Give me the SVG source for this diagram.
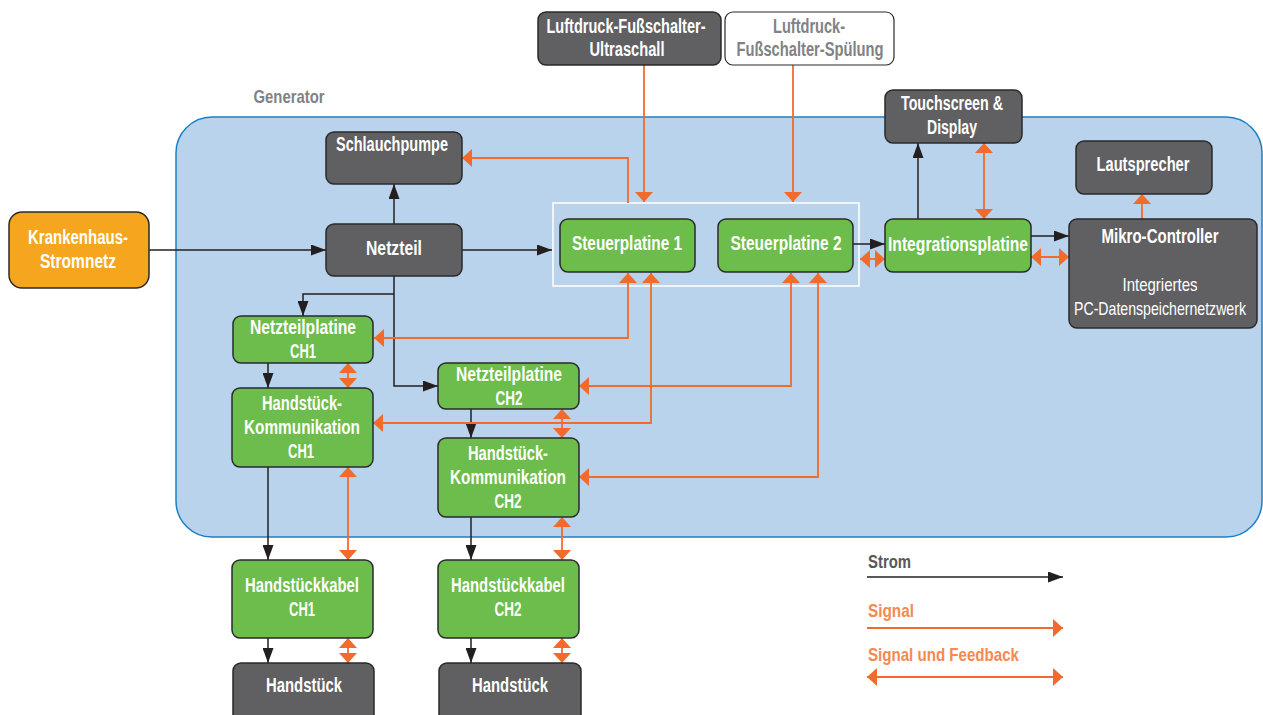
<svg xmlns="http://www.w3.org/2000/svg" width="1263" height="715" viewBox="0 0 1263 715">
<style>
text{font-family:"Liberation Sans",Arial,sans-serif;font-size:20px;font-weight:bold;text-anchor:middle;fill:#fff}
.dk{fill:#606063;stroke:#2a2a2a;stroke-width:1.5}
.gr{fill:#6cbd4b;stroke:#2a2a2a;stroke-width:1.5}
.bl{fill:none;stroke:#231f20;stroke-width:1.5}
.or{fill:none;stroke:#f26b2d;stroke-width:1.8}
.reg{font-weight:normal;font-size:19px}
</style>
<defs>
<marker id="ba" viewBox="0 0 15 11" refX="15" refY="5.5" markerWidth="15" markerHeight="11" markerUnits="userSpaceOnUse" orient="auto"><path d="M0,0 L15,5.5 L0,11 Z" fill="#231f20"/></marker>
<marker id="oa" viewBox="0 0 10 18" refX="10" refY="9" markerWidth="10" markerHeight="18" markerUnits="userSpaceOnUse" orient="auto-start-reverse"><path d="M0,0 L10,9 L0,18 Z" fill="#f26b2d"/></marker>
</defs>

<g id="generator">
<rect x="176" y="117" width="1086" height="420" rx="36" fill="#b8d3eb" stroke="#1c7fc5" stroke-width="1.5"/>
<text x="289" y="103" style="fill:#808285;font-size:19px" textLength="71" lengthAdjust="spacingAndGlyphs">Generator</text>
</g>
<rect id="steuer-gruppe" x="553" y="203" width="306" height="83" fill="none" stroke="#ffffff" stroke-width="1.5"/>

<g id="connectors">
<path class="bl" d="M149,250 H326" marker-end="url(#ba)"/>
<path class="bl" d="M394,224 V184" marker-end="url(#ba)"/>
<path class="bl" d="M461,250 H552" marker-end="url(#ba)"/>
<path class="bl" d="M394,276 V386 H438" marker-end="url(#ba)"/>
<path class="bl" d="M394,294 H303 V316" marker-end="url(#ba)"/>
<path class="bl" d="M268,363 V388" marker-end="url(#ba)"/>
<path class="bl" d="M471,409 V438" marker-end="url(#ba)"/>
<path class="bl" d="M268,467 V560" marker-end="url(#ba)"/>
<path class="bl" d="M471,517 V560" marker-end="url(#ba)"/>
<path class="bl" d="M268,638 V663" marker-end="url(#ba)"/>
<path class="bl" d="M471,638 V663" marker-end="url(#ba)"/>
<path class="bl" d="M853,244 H885" marker-end="url(#ba)"/>
<path class="bl" d="M918,219 V143" marker-end="url(#ba)"/>
<path class="bl" d="M1031,236 H1069" marker-end="url(#ba)"/>

<path class="or" d="M644,65 V202" marker-end="url(#oa)"/>
<path class="or" d="M793,65 V202" marker-end="url(#oa)"/>
<path class="or" d="M628,203 V158 H462" marker-end="url(#oa)"/>
<path class="or" d="M628,273 V338 H374" marker-start="url(#oa)" marker-end="url(#oa)"/>
<path class="or" d="M651,273 V423 H373" marker-start="url(#oa)" marker-end="url(#oa)"/>
<path class="or" d="M791,273 V386 H579" marker-start="url(#oa)" marker-end="url(#oa)"/>
<path class="or" d="M818,273 V477 H579" marker-start="url(#oa)" marker-end="url(#oa)"/>
<path class="or" d="M348,363 V388" marker-start="url(#oa)" marker-end="url(#oa)"/>
<path class="or" d="M348,467 V560" marker-start="url(#oa)" marker-end="url(#oa)"/>
<path class="or" d="M348,638 V663" marker-start="url(#oa)" marker-end="url(#oa)"/>
<path class="or" d="M562,409 V438" marker-start="url(#oa)" marker-end="url(#oa)"/>
<path class="or" d="M562,517 V560" marker-start="url(#oa)" marker-end="url(#oa)"/>
<path class="or" d="M562,638 V663" marker-start="url(#oa)" marker-end="url(#oa)"/>
<path class="or" d="M860,259 H885" marker-start="url(#oa)" marker-end="url(#oa)"/>
<path class="or" d="M1031,257 H1069" marker-start="url(#oa)" marker-end="url(#oa)"/>
<path class="or" d="M984,143 V219" marker-start="url(#oa)" marker-end="url(#oa)"/>
<path class="or" d="M1142,219 V194" marker-end="url(#oa)"/>
</g>

<g id="krankenhaus"><rect x="9" y="212" width="140" height="76" rx="13" fill="#f6a61e" stroke="#2a2a2a" stroke-width="1.5"/><text x="78" y="244" textLength="100" lengthAdjust="spacingAndGlyphs">Krankenhaus-</text><text x="78" y="268" textLength="76" lengthAdjust="spacingAndGlyphs">Stromnetz</text></g>
<g id="schlauchpumpe"><rect class="dk" x="326" y="132" width="136" height="52" rx="8"/><text x="392" y="151" textLength="112" lengthAdjust="spacingAndGlyphs">Schlauchpumpe</text></g>
<g id="netzteil"><rect class="dk" x="326" y="224" width="136" height="52" rx="8"/><text x="394" y="255" textLength="56" lengthAdjust="spacingAndGlyphs">Netzteil</text></g>
<g id="fuss-ultraschall"><rect class="dk" x="538" y="12" width="183" height="53" rx="8"/><text x="626" y="33" textLength="159" lengthAdjust="spacingAndGlyphs">Luftdruck-Fußschalter-</text><text x="627" y="56" textLength="75" lengthAdjust="spacingAndGlyphs">Ultraschall</text></g>
<g id="fuss-spuelung"><rect x="725" y="12" width="169" height="53" rx="8" fill="#fff" stroke="#2a2a2a" stroke-width="1.2"/><text x="809" y="33" style="fill:#808285" textLength="72" lengthAdjust="spacingAndGlyphs">Luftdruck-</text><text x="810" y="56" style="fill:#808285" textLength="147" lengthAdjust="spacingAndGlyphs">Fußschalter-Spülung</text></g>
<g id="steuerplatine1"><rect class="gr" x="560" y="219" width="135" height="53" rx="8"/><text x="627" y="250" textLength="110" lengthAdjust="spacingAndGlyphs">Steuerplatine 1</text></g>
<g id="steuerplatine2"><rect class="gr" x="718" y="219" width="135" height="53" rx="8"/><text x="786" y="250" textLength="111" lengthAdjust="spacingAndGlyphs">Steuerplatine 2</text></g>
<g id="integrationsplatine"><rect class="gr" x="885" y="219" width="146" height="53" rx="8"/><text x="958" y="251" textLength="140" lengthAdjust="spacingAndGlyphs">Integrationsplatine</text></g>
<g id="touchscreen"><rect class="dk" x="885" y="90" width="137" height="53" rx="8"/><text x="952" y="110" textLength="102" lengthAdjust="spacingAndGlyphs">Touchscreen &amp;</text><text x="952" y="134" textLength="50" lengthAdjust="spacingAndGlyphs">Display</text></g>
<g id="lautsprecher"><rect class="dk" x="1076" y="141" width="136" height="53" rx="8"/><text x="1143" y="171" textLength="93" lengthAdjust="spacingAndGlyphs">Lautsprecher</text></g>
<g id="mikro-controller"><rect class="dk" x="1069" y="219" width="188" height="109" rx="8"/><text x="1160" y="243" textLength="117" lengthAdjust="spacingAndGlyphs">Mikro-Controller</text><text class="reg" x="1160" y="291" textLength="75" lengthAdjust="spacingAndGlyphs">Integriertes</text><text class="reg" x="1160" y="315" textLength="172" lengthAdjust="spacingAndGlyphs">PC-Datenspeichernetzwerk</text></g>
<g id="netzteilplatine-ch1"><rect class="gr" x="233" y="316" width="140" height="47" rx="8"/><text x="303" y="334" textLength="106" lengthAdjust="spacingAndGlyphs">Netzteilplatine</text><text x="303" y="358" textLength="26" lengthAdjust="spacingAndGlyphs">CH1</text></g>
<g id="hk-ch1"><rect class="gr" x="232" y="388" width="141" height="79" rx="8"/><text x="302" y="410" textLength="80" lengthAdjust="spacingAndGlyphs">Handstück-</text><text x="302" y="434" textLength="116" lengthAdjust="spacingAndGlyphs">Kommunikation</text><text x="301" y="458" textLength="26" lengthAdjust="spacingAndGlyphs">CH1</text></g>
<g id="netzteilplatine-ch2"><rect class="gr" x="438" y="363" width="141" height="46" rx="8"/><text x="509" y="381" textLength="106" lengthAdjust="spacingAndGlyphs">Netzteilplatine</text><text x="509" y="405" textLength="27" lengthAdjust="spacingAndGlyphs">CH2</text></g>
<g id="hk-ch2"><rect class="gr" x="438" y="438" width="141" height="79" rx="8"/><text x="508" y="460" textLength="80" lengthAdjust="spacingAndGlyphs">Handstück-</text><text x="508" y="484" textLength="116" lengthAdjust="spacingAndGlyphs">Kommunikation</text><text x="508" y="508" textLength="27" lengthAdjust="spacingAndGlyphs">CH2</text></g>
<g id="kabel-ch1"><rect class="gr" x="232" y="560" width="141" height="78" rx="8"/><text x="302" y="592" textLength="114" lengthAdjust="spacingAndGlyphs">Handstückkabel</text><text x="302" y="616" textLength="26" lengthAdjust="spacingAndGlyphs">CH1</text></g>
<g id="kabel-ch2"><rect class="gr" x="438" y="560" width="141" height="78" rx="8"/><text x="508" y="592" textLength="114" lengthAdjust="spacingAndGlyphs">Handstückkabel</text><text x="508" y="616" textLength="27" lengthAdjust="spacingAndGlyphs">CH2</text></g>
<g id="handstueck1"><rect class="dk" x="233" y="663" width="141" height="62" rx="8"/><text x="304" y="692" textLength="76" lengthAdjust="spacingAndGlyphs">Handstück</text></g>
<g id="handstueck2"><rect class="dk" x="439" y="663" width="142" height="62" rx="8"/><text x="510" y="692" textLength="76" lengthAdjust="spacingAndGlyphs">Handstück</text></g>

<g id="legend">
<text x="868" y="568" style="fill:#58585a;text-anchor:start;font-size:19px" textLength="43" lengthAdjust="spacingAndGlyphs">Strom</text>
<path class="bl" d="M867,577 H1063" marker-end="url(#ba)"/>
<text x="868" y="617" style="fill:#f58a50;text-anchor:start;font-size:19px" textLength="46" lengthAdjust="spacingAndGlyphs">Signal</text>
<path class="or" d="M867,628 H1063" marker-end="url(#oa)"/>
<text x="868" y="661" style="fill:#f58a50;text-anchor:start;font-size:19px" textLength="151" lengthAdjust="spacingAndGlyphs">Signal und Feedback</text>
<path class="or" d="M867,677 H1063" marker-start="url(#oa)" marker-end="url(#oa)"/>
</g>
</svg>
